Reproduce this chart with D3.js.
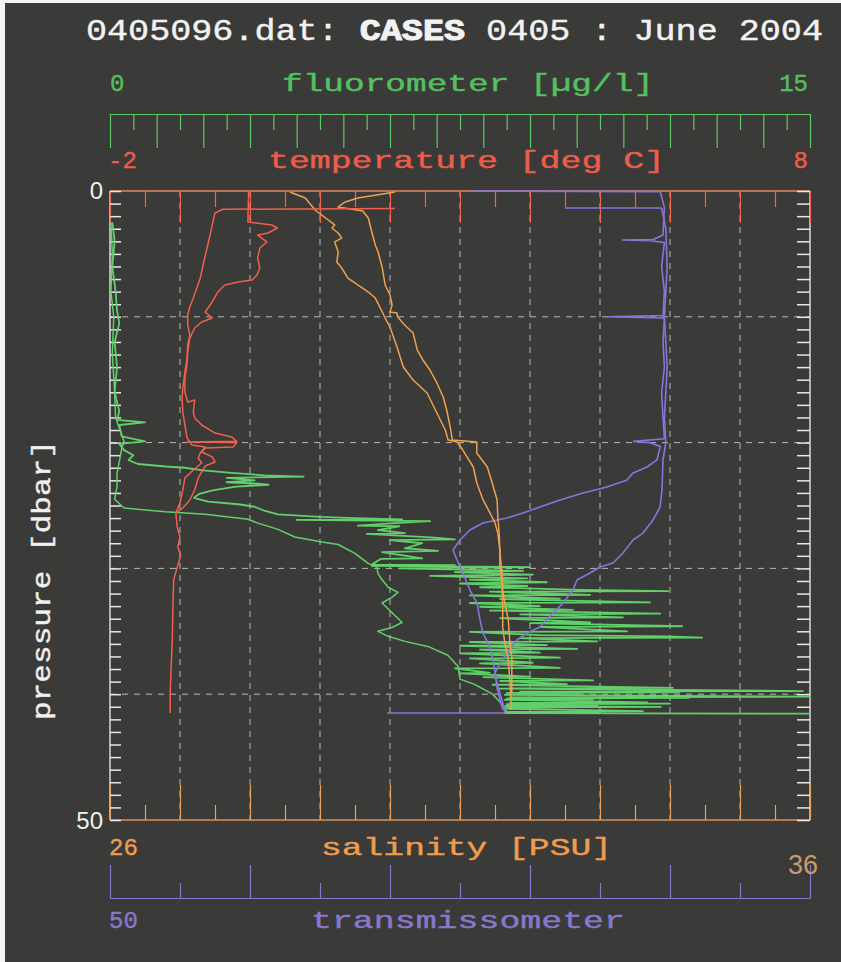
<!DOCTYPE html>
<html>
<head>
<meta charset="utf-8">
<script src="https://cdn.jsdelivr.net/npm/d3@7"></script>
<style>
  body { margin: 0; background: #3a3a38; }
  svg { display: block; }
  text { font-family: "Liberation Mono", "DejaVu Sans Mono", monospace; }
</style>
</head>
<body>
<svg id="chart" width="841" height="962"></svg>
<script>
// axis ranges
const pressureRange = [0, 50];
const tempRange = [-2, 8];
const salRange = [26, 36];
const fluoRange = [0, 15];
const transRange = [50, 100];
const gridPressures = [10, 20, 30, 40];

// temperature profiles [deg C, dbar]
const tempDown = [[2.07,1.4],[-0.39,1.45],[-0.5,1.75],[-0.53,2.46],[-0.57,3.5],[-0.61,4.45],[-0.67,5.88],
  [-0.71,6.92],[-0.76,7.71],[-0.81,8.51],[-0.86,9.22],[-0.89,9.86],[-0.89,10.65],[-0.86,11.45],[-0.89,12.24],
  [-0.9,13.28],[-0.93,14.39],[-0.96,15.66],[-0.97,16.45],[-0.96,17.57],[-0.93,18.6],[-0.9,19.63],[-0.83,20.19],
  [-0.64,20.35],[-0.71,20.83],[-0.74,21.22],[-0.69,21.62],[-0.81,22.18],[-0.93,22.81],[-0.96,23.77],[-1.0,24.8],
  [-1.06,25.6],[-1.04,26.7],[-1.0,27.5],[-1.03,28.3],[-0.99,29.0],[-1.04,29.9],[-1.09,30.9],[-1.1,32.5],
  [-1.11,35.7],[-1.13,38.3],[-1.14,39.9],[-1.14,41.5]];
const tempUp = [[-0.02,0],[-0.03,2.46],[0.31,2.7],[0.39,2.94],[0.26,3.34],[0.11,3.5],[0.17,3.74],[0.24,4.05],
  [0.14,4.53],[0.11,5.33],[0.14,6.12],[0.1,6.68],[0.03,7.07],[-0.17,7.23],[-0.36,7.47],[-0.46,8.03],[-0.54,8.82],
  [-0.64,9.62],[-0.54,10.1],[-0.69,10.41],[-0.79,10.89],[-0.86,11.69],[-0.89,12.8],[-0.9,13.83],[-0.93,14.86],
  [-0.93,15.98],[-0.89,16.77],[-0.79,16.61],[-0.81,17.57],[-0.79,18.04],[-0.69,18.6],[-0.5,19.24],[-0.26,19.55],
  [-0.19,19.9],[-0.9,19.95],[-0.19,20.0],[-0.24,20.35],[-0.64,20.43],[-0.69,20.75],[-0.54,21.14],[-0.5,21.54],
  [-0.64,21.86],[-0.74,22.81],[-0.79,23.77],[-0.86,24.56],[-0.96,25.2],[-1.06,25.6]];

// salinity profiles [PSU, dbar]
const salDown = [[28.57,0.08],[28.79,0.56],[28.93,1.51],[29.21,2.7],[29.17,2.94],[29.26,3.34],[29.31,3.74],
  [29.21,4.05],[29.26,4.85],[29.24,5.64],[29.31,6.12],[29.4,6.92],[29.54,7.47],[29.69,8.03],[29.79,8.51],
  [29.89,9.62],[29.93,10.1],[30.0,10.81],[30.1,12.4],[30.19,13.99],[30.33,15.02],[30.53,16.06],[30.67,17.65],
  [30.79,19.0],[30.83,19.79],[30.96,19.95],[31.04,20.59],[31.19,21.94],[31.24,23.21],[31.33,24.56],[31.43,25.6],
  [31.5,26.39],[31.54,27.19],[31.57,28.54],[31.57,29.89],[31.6,31.16],[31.61,33.07],[31.61,34.66],[31.64,35.93],
  [31.69,37.28],[31.71,38.87],[31.73,40.22],[31.73,41.26]];
const salUp = [[30.07,0.08],[29.54,0.56],[29.36,0.87],[29.26,1.27],[29.61,1.59],[29.69,2.15],[29.74,3.26],
  [29.79,4.29],[29.83,4.85],[29.89,6.12],[29.93,7.47],[30.0,8.27],[30.03,9.06],[30.0,9.62],[30.1,9.7],[30.11,10.02],
  [30.21,10.65],[30.33,11.29],[30.39,12.64],[30.47,13.43],[30.57,14.23],[30.67,15.26],[30.76,16.38],[30.81,17.41],
  [30.86,18.76],[30.89,19.79],[31.24,19.95],[31.24,20.83],[31.39,21.94],[31.46,23.21],[31.53,24.56],[31.54,25.91],
  [31.56,27.19],[31.57,28.78],[31.6,30.37],[31.61,31.72],[31.64,32.75],[31.69,34.1],[31.71,35.69],[31.74,37.04],
  [31.74,38.87],[31.74,39.9]];

// transmissometer profiles [%, dbar]
const transDown = [[75.9,0],[89.3,0.05],[89.6,1.3],[89.5,3.5],[88.8,3.85],[86.6,3.9],[88.6,3.95],[89.6,4.1],
  [89.4,6],[89.6,8],[89.5,9.9],[85.4,10.0],[89.6,10.1],[89.5,12],[89.6,14],[89.4,16],[89.5,18],[89.6,19.7],
  [87.4,19.9],[88.5,20.0],[89.3,20.3],[89.07,21.38],[88.36,21.94],[87.36,22.42],[86.93,22.97],[85.5,23.53],
  [83.79,24.0],[82.14,24.56],[80.71,25.12],[79.5,25.6],[78.36,25.99],[76.64,26.39],[75.71,26.95],[75.0,27.74],
  [74.5,28.54],[74.79,29.33],[75.21,30.37],[75.71,31.72],[76.21,32.75],[76.43,34.1],[76.64,35.14],[77.14,36.25],
  [77.36,37.28],[77.5,38.31],[77.71,39.43],[78.0,40.46],[78.21,41.49],[69.79,41.5]];
const transUp = [[82.5,1.35],[89.4,1.35],[89.7,3],[89.8,6],[89.6,10],[89.8,14],[89.6,18],[89.7,20],[89.5,21.38],
  [89.43,23.77],[89.29,25.12],[88.79,26.15],[88.07,27.19],[87.36,27.74],[86.64,28.78],[85.93,29.57],[85.0,29.89],
  [84.29,30.37],[83.36,30.92],[83.07,31.72],[82.36,32.75],[81.64,33.55],[80.71,34.66],[79.79,35.14],[79.07,35.69],
  [78.36,36.72],[77.71,37.84],[77.5,38.31],[77.64,39.43],[77.86,40.46],[78.07,41.26]];

// fluorometer profiles [ug/l, dbar]
const fluoDown = [[0.02,2.5],[0.05,5],[0.02,8],[0.08,10],[0.05,13],[0.1,16],[0.12,18],[0.3,19.9],[0.25,20.5],
  [0.2,21.5],[0.15,22.5],[0.15,23.5],[0.1,24.5],[0.3,25.2],[1.18,25.5],[2.04,25.7],[2.96,26.1],[3.17,26.4],
  [3.6,26.9],[3.96,27.5],[4.54,27.9],[4.89,28.1],[5.25,28.8],[5.53,29.6],[5.72,29.9],[5.74,30.4],[5.83,30.9],
  [5.96,31.5],[6.17,31.9],[6.04,32.3],[5.83,32.75],[6.04,33.5],[6.26,34.3],[6.04,34.7],[5.74,35.0],[5.96,35.4],
  [6.32,35.8],[6.81,36.2],[7.24,36.9],[7.46,37.8],[7.5,38.8],[7.8,39.2],[8.2,40.0],[8.4,40.8],[8.5,41.4]];
const fluoUp = [[0.05,2.5],[0.1,4],[0.05,6],[0.12,8],[0.15,9.5],[0.2,10.5],[0.1,12],[0.15,14],[0.1,16],
  [0.2,17.5],[0.15,18.2],[0.75,18.4],[0.2,18.6],[0.25,19.5],[0.75,19.9],[0.2,20.1],[0.3,20.6],[0.5,21.0],
  [0.4,21.4],[0.6,21.7],[1.2,21.9],[1.6,22.0],[2.0,22.2],[2.6,22.4],[3.3,22.6],[4.15,22.7],[2.5,22.8],[3.1,23.0],
  [2.5,23.15],[3.1,23.25],[3.4,23.35],[2.7,23.5],[2.2,23.8],[1.9,24.1],[1.8,24.4],[2.1,24.7],[2.75,24.9],
  [3.1,25.1],[3.3,25.4],[3.6,25.7],[4.5,25.9],[5.25,26.0],[6.26,26.1],[4.0,26.15],[6.86,26.25],[6.11,26.4],[5.31,26.6],
  [6.2,26.65],[5.74,26.95],[6.32,27.2],[5.5,27.25],[6.96,27.55],[7.39,27.7],[6.0,27.75],[6.69,28.0],[6.32,28.4],
  [7.03,28.6],[5.83,28.7],[6.69,29.2],[5.8,29.25],[5.61,29.7],[7.39,29.75],[5.61,29.8],[9.0,29.9],[6.21,30.0],
  [8.85,30.2],[7.39,30.3],[9.06,30.5],[6.86,30.6],[8.94,30.8],[7.71,30.9],[9.36,31.1],[7.5,31.2],[8.94,31.4],
  [7.93,31.5],[10.07,31.7],[11.96,31.8],[8.14,31.85],[10.29,32.1],[7.71,32.15],[9.64,32.4],[8.36,32.45],[11.57,32.7],
  [7.71,32.75],[9.21,33.0],[7.93,33.05],[9.92,33.3],[8.14,33.35],[11.79,33.6],[8.79,33.65],[10.99,33.9],[8.36,33.95],
  [10.29,34.3],[9.0,34.35],[12.26,34.6],[9.21,34.65],[11.08,35.0],[7.71,35.05],[9.21,35.3],[11.96,35.4],[12.69,35.5],
  [8.79,35.55],[10.44,35.8],[7.71,35.85],[9.36,36.1],[7.5,36.15],[10.01,36.4],[7.93,36.45],[9.21,36.7],[7.5,36.75],
  [9.64,37.1],[7.71,37.15],[9.06,37.5],[7.93,37.55],[9.64,37.9],[7.39,37.95],[8.14,38.3],[7.5,38.35],[9.0,38.6],
  [8.0,38.65],[10.35,38.9],[8.36,38.95],[9.79,39.2],[8.2,39.25],[12.06,39.5],[8.3,39.55],[14.85,39.75],[8.79,39.8],
  [12.2,39.85],[8.5,39.9],[10.07,40.0],[8.46,40.05],[15.0,40.2],[8.57,40.25],[12.4,40.3],[8.5,40.35],[10.35,40.4],
  [8.46,40.45],[11.51,40.65],[8.57,40.7],[12.0,40.75],[8.5,40.8],[10.44,40.9],[8.46,40.95],[11.8,41.0],[8.5,41.05],
  [9.06,41.1],[8.46,41.15],[11.42,41.35],[8.46,41.4],[10.5,41.45],[8.46,41.5],[15.0,41.55]];

const svg = d3.select("#chart");
const width = +svg.attr("width");
const height = +svg.attr("height");
const plotLeft = 110, plotRight = 810, plotTop = 191, plotBottom = 820;

const colors = {
    green: "#62d06a", red: "#f0604c", orange: "#f0a04e", purple: "#8676dc",
    white: "#eeeeee", grid: "#b8b8b8"
};

const y = d3.scaleLinear().domain(pressureRange).range([plotTop, plotBottom]);
const xTemp = d3.scaleLinear().domain(tempRange).range([plotLeft, plotRight]);
const xSal = d3.scaleLinear().domain(salRange).range([plotLeft, plotRight]);
const xFluo = d3.scaleLinear().domain(fluoRange).range([plotLeft, plotRight]);
const xTrans = d3.scaleLinear().domain(transRange).range([plotLeft, plotRight]);

svg.append("rect").attr("width", width).attr("height", height).attr("fill", "#3a3a38");
// scanned page margin
svg.append("rect").attr("width", 5).attr("height", height).attr("fill", "#f4f4f4");
svg.append("rect").attr("width", width).attr("height", 3).attr("fill", "#f4f4f4");

// dashed grid
const grid = svg.append("g").attr("stroke", colors.grid).attr("stroke-dasharray", "6,6").attr("stroke-width", 1);
grid.selectAll(".gx").data(d3.range(-1, 8)).enter().append("line")
    .attr("x1", d => xTemp(d)).attr("x2", d => xTemp(d))
    .attr("y1", plotTop).attr("y2", plotBottom);
grid.selectAll(".gy").data(gridPressures).enter().append("line")
    .attr("x1", plotLeft).attr("x2", plotRight)
    .attr("y1", d => y(d)).attr("y2", d => y(d));

// helper for unlabeled tick axes
function tickAxis(axisFn, scale, values, size, color, transform, w) {
    const g = svg.append("g")
        .attr("transform", transform)
        .call(axisFn(scale).tickValues(values).tickSize(size).tickSizeOuter(0).tickFormat(() => ""));
    g.select(".domain").remove();
    g.selectAll("line").attr("stroke", color).attr("stroke-width", w || 1.2);
    return g;
}

// frame
svg.append("line").attr("x1", plotLeft).attr("x2", plotRight).attr("y1", plotTop).attr("y2", plotTop).attr("stroke", "#e0885a").attr("stroke-width", 1.5);
svg.append("line").attr("x1", plotLeft).attr("x2", plotRight).attr("y1", plotBottom).attr("y2", plotBottom).attr("stroke", "#e09050").attr("stroke-width", 1.5);
svg.append("line").attr("x1", plotLeft).attr("x2", plotLeft).attr("y1", plotTop).attr("y2", plotBottom).attr("stroke", "#d8d8d8").attr("stroke-width", 1.5);
svg.append("line").attr("x1", plotRight).attr("x2", plotRight).attr("y1", plotTop).attr("y2", plotBottom).attr("stroke", "#d8d8d8").attr("stroke-width", 1.5);

// temperature ticks along the top edge
tickAxis(d3.axisBottom, xTemp, d3.range(-2, 9), 32, "#e6684e", `translate(0,${plotTop})`);
tickAxis(d3.axisBottom, xTemp, d3.range(-1.5, 8, 1), 16, "#e6684e", `translate(0,${plotTop})`);
// salinity ticks along the bottom edge
tickAxis(d3.axisTop, xSal, d3.range(26, 37), 35, "#e8a060", `translate(0,${plotBottom})`);
tickAxis(d3.axisTop, xSal, d3.range(26.5, 36, 1), 15, "#e8a060", `translate(0,${plotBottom})`);
// pressure ticks on both sides
tickAxis(d3.axisRight, y, d3.range(0, 51), 11, "#e8e8e8", `translate(${plotLeft},0)`, 1.5);
tickAxis(d3.axisLeft, y, d3.range(0, 51), 13, "#e8e8e8", `translate(${plotRight},0)`, 1.5);

// fluorometer axis above
const fluoAxis = svg.append("g")
    .attr("transform", "translate(0,114)")
    .call(d3.axisBottom(xFluo).tickValues(d3.range(0, 16)).tickSize(34).tickSizeOuter(0).tickFormat(() => ""));
fluoAxis.selectAll("path, line").attr("stroke", "#5cc866").attr("stroke-width", 1.2);
tickAxis(d3.axisBottom, xFluo, d3.range(0.5, 15, 1), 16, "#5cc866", "translate(0,114)");

// transmissometer axis below
const transAxis = svg.append("g")
    .attr("transform", "translate(0,898)")
    .call(d3.axisTop(xTrans).tickValues(d3.range(50, 101, 10)).tickSize(33).tickSizeOuter(0).tickFormat(() => ""));
transAxis.selectAll("path, line").attr("stroke", "#8676cc").attr("stroke-width", 1.2);
tickAxis(d3.axisTop, xTrans, d3.range(55, 100, 10), 15, "#8676cc", "translate(0,898)");

// profiles
function profile(data, xScale, color, w) {
    svg.append("path")
        .datum(data)
        .attr("fill", "none")
        .attr("stroke", color)
        .attr("stroke-width", w || 1.5)
        .attr("stroke-linejoin", "round")
        .attr("d", d3.line().x(d => xScale(d[0])).y(d => y(d[1])));
}
profile(fluoDown, xFluo, colors.green);
profile(fluoUp, xFluo, colors.green, 1.8);
profile(transDown, xTrans, colors.purple, 1.6);
profile(transUp, xTrans, colors.purple, 1.6);
profile(salDown, xSal, colors.orange);
profile(salUp, xSal, colors.orange);
profile(tempDown, xTemp, colors.red);
profile(tempUp, xTemp, colors.red);

// text; long labels are stretched to the wide spacing of the original plot
function label(txt, x, yy, color, opts) {
    const o = opts || {};
    const t = svg.append("text")
        .attr("x", x).attr("y", yy)
        .attr("fill", color)
        .attr("stroke", color).attr("stroke-width", o.bold === false ? 0 : 0.4)
        .attr("font-size", o.size || 24)
        .attr("text-anchor", o.anchor || "start")
        .text(txt);
    if (o.len) t.attr("textLength", o.len).attr("lengthAdjust", "spacingAndGlyphs");
    if (o.family) t.style("font-family", o.family);
    return t;
}

const title = svg.append("text")
    .attr("x", 86).attr("y", 40)
    .attr("fill", "#f2f2f2")
    .attr("stroke", "#f2f2f2").attr("stroke-width", 0.4)
    .attr("font-size", 29)
    .attr("textLength", 737).attr("lengthAdjust", "spacingAndGlyphs");
title.append("tspan").text("0405096.dat: ");
title.append("tspan").attr("font-weight", "bold").attr("stroke-width", 1).text("CASES");
title.append("tspan").text(" 0405 : June 2004");

label(fluoRange[0], 110, 91, "#55c060");
label("fluorometer [µg/l]", 282, 91, "#55c060", { len: 372 });
label(fluoRange[1], 808, 91, "#55c060", { anchor: "end" });

label(tempRange[0], 108, 168, "#ee5c4a");
label("temperature [deg C]", 268, 168, "#ee5c4a", { len: 397 });
label(tempRange[1], 808, 168, "#ee5c4a", { anchor: "end" });

label(salRange[0], 109, 855, "#ee9c50");
label("salinity [PSU]", 321, 855, "#ee9c50", { len: 291 });
label(salRange[1], 818, 874, "#c89a72", { anchor: "end", size: 27, bold: false, family: "'Liberation Sans', sans-serif" });

label(transRange[0], 109, 928, "#8878cc");
label("transmissometer", 311, 928, "#8878cc", { len: 314 });

label(pressureRange[0], 103, 199, "#f0f0f0", { anchor: "end", size: 24, bold: false, family: "'Liberation Sans', sans-serif" });
label(pressureRange[1], 103, 829, "#f0f0f0", { anchor: "end", size: 24, bold: false, family: "'Liberation Sans', sans-serif" });

svg.append("text")
    .attr("transform", "translate(50,580) rotate(-90)")
    .attr("text-anchor", "middle")
    .attr("fill", "#f0f0f0")
    .attr("stroke", "#f0f0f0").attr("stroke-width", 0.4)
    .attr("font-size", 26)
    .attr("textLength", 280).attr("lengthAdjust", "spacingAndGlyphs")
    .text("pressure [dbar]");
</script>
</body>
</html>
